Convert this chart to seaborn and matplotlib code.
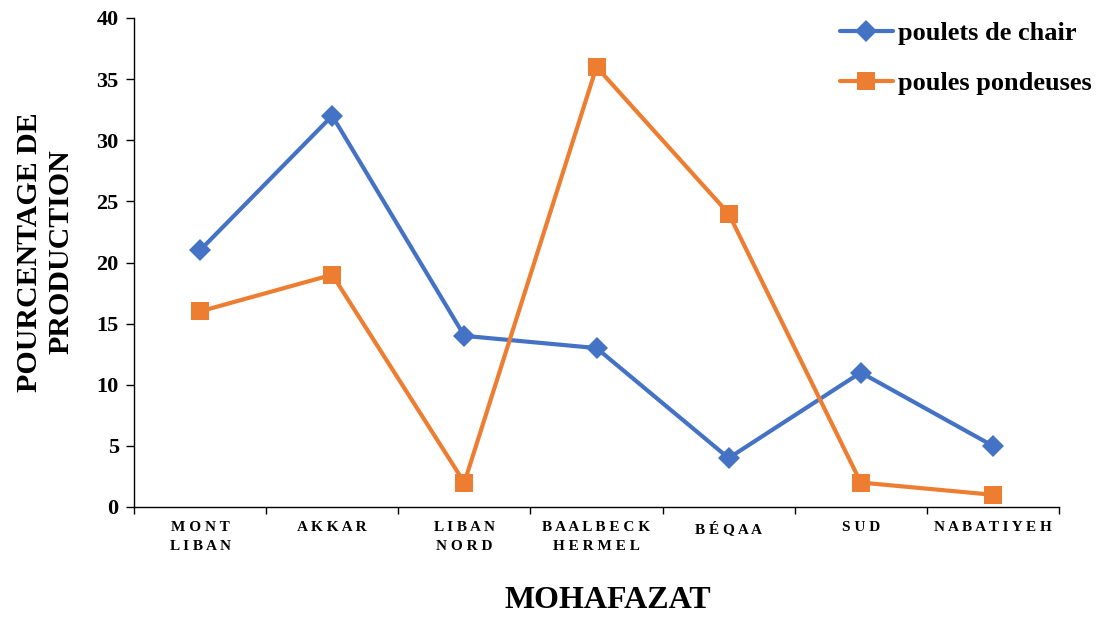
import numpy as np
import pandas as pd
import matplotlib
matplotlib.use("Agg")
import matplotlib.pyplot as plt
import seaborn as sns

regions = ["M O N T\nL I B A N", "A K K A R", "L I B A N\nN O R D", "B A A L B E C K\nH E R M E L",
           "B É Q A A", "S U D", "N A B A T I Y E H"]
poulets_chair = [21, 32, 14, 13, 4, 11, 5]
poules_pondeuses = [16, 19, 2, 36, 24, 2, 1]

sns.set_theme(style="ticks")
plt.rcParams['font.family'] = ['Liberation Serif', 'DejaVu Serif']
plt.rcParams['font.weight'] = 'bold'
for k in ['text.color', 'axes.labelcolor', 'xtick.color', 'ytick.color', 'axes.edgecolor']:
    plt.rcParams[k] = 'black'

idx = np.arange(len(regions))
df = pd.DataFrame({
    "idx": np.concatenate([idx, idx]),
    "val": poulets_chair + poules_pondeuses,
    "serie": ["poulets de chair"] * len(idx) + ["poules pondeuses"] * len(idx),
})

W, H = 1097, 618
fig = plt.figure(figsize=(W / 100, H / 100), dpi=100)
ax = fig.add_axes([134 / W, 1 - 507 / H, (1059 - 134) / W, (507 - 18) / H])

sns.lineplot(data=df, x="idx", y="val", hue="serie", style="serie",
             markers={"poulets de chair": "D", "poules pondeuses": "s"},
             dashes=False, palette={"poulets de chair": "#4472C4", "poules pondeuses": "#ED7D31"},
             linewidth=3, markersize=11, markeredgewidth=0, ax=ax)
# square a bit bigger than the diamond
for ln in ax.lines:
    if ln.get_marker() == 's':
        ln.set_markersize(12.5)

ax.set_xlim(-0.5, 6.5)
ax.set_ylim(0, 40)
ax.set_yticks(range(0, 41, 5))
ax.tick_params(axis='y', labelsize=16, length=6, width=1, pad=5)
for t in ax.get_yticklabels():
    t.set_fontweight('bold')

ax.set_xticks(np.arange(-0.5, 7, 1))
ax.set_xticklabels([])
ax.tick_params(axis='x', which='major', length=5, width=1)
ax.set_xticks(idx, minor=True)
ax.set_xticklabels(regions, minor=True, fontsize=11, fontweight='bold', linespacing=1.6)
ax.tick_params(axis='x', which='minor', length=0, pad=10)

for s in ['top', 'right']:
    ax.spines[s].set_visible(False)
for s in ['left', 'bottom']:
    ax.spines[s].set_linewidth(1)

ax.set_xlabel("MOHAFAZAT", fontsize=23, fontweight='bold')
ax.xaxis.set_label_coords((608 - 134) / 925, (507 - 601) / 489)
ax.xaxis.label.set_va('center')
ax.set_ylabel("POURCENTAGE DE\nPRODUCTION", fontsize=21.5, fontweight='bold')
ax.yaxis.set_label_coords((45 - 134) / 925, (507 - 252) / 489)
ax.yaxis.label.set_va('center')

leg = ax.legend(loc='upper left', bbox_to_anchor=(840 / W, 1 - 22 / H),
                bbox_transform=fig.transFigure, frameon=False,
                prop={'size': 19, 'weight': 'bold'}, handlelength=2.0,
                labelspacing=1.0, handletextpad=0.2, borderpad=0, borderaxespad=0)

fig.savefig("out.png", dpi=100)
